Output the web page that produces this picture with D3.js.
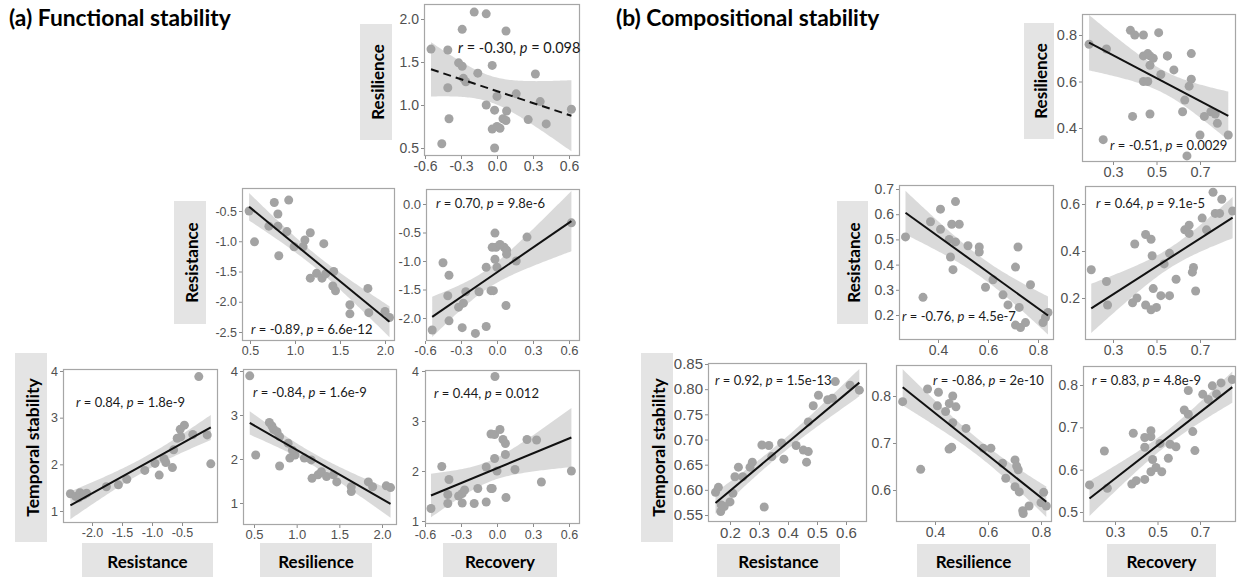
<!DOCTYPE html>
<html><head><meta charset="utf-8">
<script src="https://cdn.jsdelivr.net/npm/d3@7"></script>
<style>body{margin:0;background:#fff}svg{display:block}</style>
</head><body>
<svg id="c" width="1238" height="577"></svg>
<script>
// ---------------- DATA ----------------
// (a) Functional stability
const funcResilienceVsRecovery = [[-0.55,1.65],[-0.29,1.88],[-0.19,2.08],[-0.09,2.06],[0.075,1.86],[-0.41,1.64],[-0.32,1.49],[-0.29,1.45],[-0.28,1.31],[-0.26,1.27],[-0.16,1.37],[-0.04,1.46],[-0.41,1.20],[0.0,1.10],[0.16,1.13],[-0.09,1.00],[-0.02,0.94],[0.08,0.93],[0.05,0.84],[0.075,0.82],[-0.40,0.84],[0.26,0.83],[0.0,0.75],[0.025,0.73],[-0.04,0.72],[-0.46,0.55],[-0.02,0.50],[0.32,1.36],[0.36,1.04],[0.41,0.78],[0.62,0.95]];
const funcResistanceVsResilience = [[0.49,-0.50],[0.55,-1.01],[0.77,-0.36],[0.93,-0.32],[0.81,-0.55],[0.71,-0.75],[0.81,-0.75],[0.91,-0.84],[1.17,-0.86],[1.11,-0.98],[0.99,-1.09],[1.09,-1.09],[0.82,-1.24],[1.32,-1.04],[1.17,-1.61],[1.24,-1.53],[1.30,-1.61],[1.34,-1.54],[1.43,-1.50],[1.42,-1.74],[1.45,-1.82],[1.61,-2.05],[1.61,-2.20],[1.81,-1.78],[1.82,-2.18],[2.0,-2.16],[2.05,-2.26]];
const funcResistanceVsRecovery = [[-0.54,-2.21],[-0.45,-1.03],[-0.40,-1.25],[-0.41,-1.61],[-0.40,-2.05],[-0.32,-1.81],[-0.28,-1.74],[-0.26,-1.54],[-0.29,-2.17],[-0.18,-2.27],[-0.15,-1.54],[-0.09,-2.15],[-0.09,-1.11],[-0.05,-1.52],[-0.03,-1.52],[-0.017,-0.51],[-0.04,-0.76],[-0.008,-0.76],[-0.017,-0.97],[0.0,-1.11],[0.025,-0.71],[0.06,-0.76],[0.08,-0.81],[0.08,-0.88],[0.075,-1.78],[0.16,-1.0],[0.25,-0.58],[0.62,-0.33]];
const funcStabilityVsResistance = [[-2.36,1.37],[-2.27,1.31],[-2.20,1.39],[-2.09,1.38],[-2.22,1.28],[-2.14,1.34],[-1.76,1.52],[-1.56,1.56],[-1.42,1.68],[-1.12,1.87],[-0.95,2.02],[-0.88,1.77],[-0.80,2.12],[-0.77,2.04],[-0.66,1.93],[-0.64,2.31],[-0.58,2.56],[-0.53,2.75],[-0.46,2.84],[-0.52,2.59],[-0.22,3.88],[-0.32,2.64],[-0.08,2.63],[-0.02,2.01]];
const funcStabilityVsResilience = [[0.45,3.89],[0.52,2.09],[0.68,2.83],[0.71,2.75],[0.73,2.67],[0.77,2.62],[0.80,2.51],[0.80,1.84],[0.90,2.36],[0.92,2.02],[0.98,2.09],[0.95,2.20],[1.09,2.02],[1.17,1.98],[1.18,1.56],[1.25,1.64],[1.29,1.71],[1.35,1.60],[1.43,1.64],[1.47,1.48],[1.64,1.37],[1.64,1.26],[1.84,1.48],[1.89,1.37],[2.05,1.39],[2.10,1.35]];
const funcStabilityVsRecovery = [[-0.55,1.25],[-0.46,2.09],[-0.40,1.83],[-0.41,1.53],[-0.41,1.35],[-0.32,1.50],[-0.29,1.55],[-0.27,1.62],[-0.29,1.36],[-0.19,1.35],[-0.16,1.65],[-0.09,1.38],[-0.09,2.08],[-0.05,1.65],[-0.04,1.65],[-0.017,3.89],[-0.05,2.74],[-0.02,2.73],[0.025,2.83],[-0.02,2.25],[0.0,2.0],[0.05,2.63],[0.07,2.55],[0.07,2.33],[0.075,1.47],[0.15,2.03],[0.25,2.63],[0.33,2.62],[0.37,1.78],[0.62,2.0]];
// (b) Compositional stability
const compResilienceVsRecovery = [[0.19,0.76],[0.27,0.74],[0.255,0.35],[0.38,0.82],[0.40,0.80],[0.44,0.80],[0.44,0.71],[0.46,0.72],[0.47,0.71],[0.485,0.70],[0.47,0.67],[0.51,0.81],[0.55,0.71],[0.55,0.71],[0.52,0.63],[0.58,0.65],[0.44,0.60],[0.46,0.60],[0.39,0.45],[0.47,0.46],[0.66,0.72],[0.66,0.61],[0.65,0.58],[0.63,0.52],[0.62,0.47],[0.64,0.28],[0.70,0.37],[0.72,0.45],[0.75,0.47],[0.77,0.46],[0.78,0.42],[0.83,0.37]];
const compResistanceVsResilience = [[0.27,0.51],[0.34,0.27],[0.37,0.57],[0.41,0.62],[0.41,0.54],[0.455,0.56],[0.47,0.65],[0.485,0.56],[0.445,0.50],[0.47,0.49],[0.45,0.43],[0.46,0.38],[0.52,0.475],[0.565,0.47],[0.565,0.45],[0.59,0.31],[0.62,0.34],[0.66,0.28],[0.68,0.24],[0.72,0.47],[0.71,0.39],[0.725,0.23],[0.71,0.16],[0.73,0.15],[0.75,0.17],[0.77,0.32],[0.84,0.21],[0.83,0.19],[0.82,0.17]];
const compResistanceVsRecovery = [[0.20,0.32],[0.27,0.27],[0.275,0.17],[0.40,0.43],[0.39,0.18],[0.41,0.20],[0.45,0.47],[0.475,0.45],[0.48,0.38],[0.45,0.17],[0.485,0.24],[0.475,0.15],[0.50,0.16],[0.52,0.21],[0.56,0.21],[0.56,0.39],[0.535,0.345],[0.59,0.28],[0.63,0.49],[0.65,0.51],[0.65,0.475],[0.67,0.33],[0.665,0.31],[0.68,0.23],[0.71,0.54],[0.73,0.49],[0.76,0.65],[0.77,0.56],[0.79,0.56],[0.80,0.62],[0.85,0.57]];
const compStabilityVsResistance = [[0.15,0.595],[0.16,0.605],[0.168,0.557],[0.17,0.57],[0.18,0.567],[0.20,0.576],[0.21,0.593],[0.217,0.626],[0.229,0.645],[0.244,0.626],[0.269,0.645],[0.277,0.655],[0.31,0.689],[0.318,0.566],[0.334,0.688],[0.344,0.666],[0.378,0.693],[0.386,0.661],[0.428,0.688],[0.453,0.679],[0.47,0.676],[0.464,0.655],[0.487,0.767],[0.47,0.735],[0.505,0.788],[0.537,0.779],[0.553,0.782],[0.563,0.815],[0.614,0.808],[0.646,0.798]];
const compStabilityVsResilience = [[0.278,0.788],[0.346,0.644],[0.372,0.815],[0.413,0.808],[0.409,0.779],[0.44,0.767],[0.454,0.784],[0.467,0.80],[0.479,0.777],[0.467,0.743],[0.453,0.687],[0.463,0.691],[0.517,0.731],[0.582,0.689],[0.611,0.689],[0.655,0.657],[0.667,0.625],[0.702,0.664],[0.708,0.651],[0.714,0.643],[0.702,0.607],[0.718,0.596],[0.731,0.556],[0.755,0.566],[0.733,0.55],[0.81,0.595],[0.80,0.573],[0.82,0.566]];
const compStabilityVsRecovery = [[0.18,0.564],[0.25,0.644],[0.264,0.556],[0.379,0.566],[0.40,0.574],[0.386,0.686],[0.44,0.577],[0.44,0.653],[0.44,0.676],[0.469,0.678],[0.469,0.692],[0.477,0.624],[0.469,0.595],[0.493,0.605],[0.52,0.595],[0.512,0.662],[0.551,0.627],[0.559,0.66],[0.587,0.654],[0.645,0.787],[0.626,0.741],[0.645,0.731],[0.666,0.69],[0.676,0.645],[0.713,0.778],[0.739,0.766],[0.758,0.798],[0.778,0.779],[0.799,0.805],[0.852,0.813]];

// Fitted regression lines: [[x start, y start], [x end, y end]]
const fitLines = [
  [[-0.55,1.415],[0.62,0.875]],
  [[0.49,-0.43],[2.05,-2.33]],
  [[-0.54,-1.98],[0.62,-0.30]],
  [[-2.36,1.12],[-0.02,2.79]],
  [[0.45,2.82],[2.10,0.98]],
  [[-0.55,1.51],[0.62,2.67]],
  [[0.19,0.767],[0.83,0.452]],
  [[0.27,0.606],[0.84,0.198]],
  [[0.20,0.156],[0.85,0.542]],
  [[0.15,0.574],[0.646,0.813]],
  [[0.278,0.8185],[0.82,0.575]],
  [[0.18,0.532],[0.852,0.795]]
];

// Tick values
const ticksRecoveryA = [-0.6,-0.3,0.0,0.3,0.6];
const ticksResilienceA = [0.5,1.0,1.5,2.0];
const ticksResistanceA2 = [-2.5,-2.0,-1.5,-1.0,-0.5];
const ticksResistanceA3 = [-2.0,-1.5,-1.0,-0.5,0.0];
const ticksResistanceA4 = [-2.0,-1.5,-1.0,-0.5];
const ticksStabilityA = [1,2,3,4];
const ticksRecoveryB = [0.3,0.5,0.7];
const ticksResilienceB1 = [0.4,0.6,0.8];
const ticksResilienceB = [0.4,0.6,0.8];
const ticksResistanceB2 = [0.2,0.3,0.4,0.5,0.6,0.7];
const ticksResistanceB3 = [0.2,0.4,0.6];
const ticksResistanceB4 = [0.2,0.3,0.4,0.5,0.6];
const ticksStabilityB4 = [0.55,0.60,0.65,0.70,0.75,0.80,0.85];
const ticksStabilityB5 = [0.6,0.7,0.8];
const ticksStabilityB6 = [0.5,0.6,0.7,0.8];

// Correlation labels
const corrR = ["-0.30","-0.89","0.70","0.84","-0.84","0.44","-0.51","-0.76","0.64","0.92","-0.86","0.83"];
const corrP = ["0.098","6.6e-12","9.8e-6","1.8e-9","1.6e-9","0.012","0.0029","4.5e-7","9.1e-5","1.5e-13","2e-10","4.8e-9"];

// ---------------- LAYOUT ----------------
const loc = d3.formatLocale({decimal:".",thousands:",",grouping:[3],currency:["",""],minus:"-"});
const f1 = loc.format(".1f"), f0 = loc.format("d"), f2 = loc.format(".2f");

const panels = [
 {data:funcResilienceVsRecovery, box:[424,4,580,156], xd:[-0.6,0.6], xr:[425,569], yd:[0.5,2.0], yr:[148,19], xt:ticksRecoveryA, yt:ticksResilienceA, fx:f1, fy:f1, fs:14, dash:true, ann:[458,53,14.5]},
 {data:funcResistanceVsResilience, box:[242,188,395,341], xd:[0.5,2.0], xr:[250,385], yd:[-2.5,-0.5], yr:[332,211], xt:ticksResilienceA, yt:ticksResistanceA2, fx:f1, fy:f1, fs:12.5, ann:[251,334,13]},
 {data:funcResistanceVsRecovery, box:[426,189,580,341], xd:[-0.6,0.6], xr:[425,569], yd:[-2.0,0.0], yr:[318,204], xt:ticksRecoveryA, yt:ticksResistanceA3, fx:f1, fy:f1, fs:13, ann:[436,208,13]},
 {data:funcStabilityVsResistance, box:[63,369,218,523], xd:[-2.0,-0.5], xr:[92,182], yd:[1,4], yr:[511,371], xt:ticksResistanceA4, yt:ticksStabilityA, fx:f1, fy:f0, fs:12.5, ann:[76,407,13]},
 {data:funcStabilityVsResilience, box:[243,369,397,525], xd:[0.5,2.0], xr:[254,382], yd:[1,4], yr:[503,371], xt:ticksResilienceA, yt:ticksStabilityA, fx:f1, fy:f0, fs:13, ann:[253,397,13]},
 {data:funcStabilityVsRecovery, box:[425,370,580,524], xd:[-0.6,0.6], xr:[425,569], yd:[1,4], yr:[521,371], xt:ticksRecoveryA, yt:ticksStabilityA, fx:f1, fy:f0, fs:12.5, ypad:3, xpad:3, ann:[434,398,13]},
 {data:compResilienceVsRecovery, box:[1082,14,1236,162], xd:[0.3,0.7], xr:[1113,1200], yd:[0.4,0.8], yr:[128,35], xt:ticksRecoveryB, yt:ticksResilienceB1, fx:f1, fy:f1, fs:14.5, ann:[1110,150,13]},
 {data:compResistanceVsResilience, box:[899,185,1054,340], xd:[0.4,0.8], xr:[938,1038], yd:[0.2,0.7], yr:[315,189], xt:ticksResilienceB, yt:ticksResistanceB2, fx:f1, fy:f1, fs:14, ann:[902,321,13]},
 {data:compResistanceVsRecovery, box:[1085,186,1236,340], xd:[0.3,0.7], xr:[1113,1200], yd:[0.2,0.6], yr:[298,204], xt:ticksRecoveryB, yt:ticksResistanceB3, fx:f1, fy:f1, fs:14, ann:[1096,208,13]},
 {data:compStabilityVsResistance, box:[708,363,867,522], xd:[0.2,0.6], xr:[730,846], yd:[0.55,0.85], yr:[515,364], xt:ticksResistanceB4, yt:ticksStabilityB4, fx:f1, fy:f2, fs:15, ann:[715,385,13]},
 {data:compStabilityVsResilience, box:[896,365,1052,522], xd:[0.4,0.8], xr:[935,1041], yd:[0.6,0.8], yr:[490,396], xt:ticksResilienceB, yt:ticksStabilityB5, fx:f1, fy:f1, fs:14, ann:[933,385,13]},
 {data:compStabilityVsRecovery, box:[1083,366,1236,522], xd:[0.3,0.7], xr:[1115,1200], yd:[0.5,0.8], yr:[512,385], xt:ticksRecoveryB, yt:ticksStabilityB6, fx:f1, fy:f1, fs:14, ann:[1092,385,13]}
];

const labels = [
 {t:"Resilience", x:360, y:24, w:32, h:116, rot:true},
 {t:"Resistance", x:174, y:201, w:32, h:123, rot:true},
 {t:"Temporal stability", x:15, y:353, w:32, h:189, rot:true},
 {t:"Resistance", x:82, y:543, w:131, h:34},
 {t:"Resilience", x:260, y:543, w:112, h:34},
 {t:"Recovery", x:443, y:543, w:114, h:34},
 {t:"Resilience", x:1024, y:23, w:30, h:116, rot:true},
 {t:"Resistance", x:837, y:201, w:31, h:123, rot:true},
 {t:"Temporal stability", x:641, y:353, w:32, h:189, rot:true},
 {t:"Resistance", x:717, y:544, w:123, h:33},
 {t:"Resilience", x:917, y:544, w:113, h:33},
 {t:"Recovery", x:1107, y:544, w:109, h:33}
];

const titles = [{t:"(a) Functional stability", x:9, y:26},{t:"(b) Compositional stability", x:616, y:26}];

// ---------------- DRAW ----------------
const svg = d3.select("#c");
const T = 2.04;

panels.forEach((p,i)=>{
  const g = svg.append("g");
  const x = d3.scaleLinear().domain(p.xd).range(p.xr);
  const y = d3.scaleLinear().domain(p.yd).range(p.yr);
  const [bx0,by0,bx1,by1] = p.box;
  g.append("clipPath").attr("id","cl"+i).append("rect").attr("x",bx0).attr("y",by0).attr("width",bx1-bx0).attr("height",by1-by0);
  const inner = g.append("g").attr("clip-path",`url(#cl${i})`);
  // fitted line (read) and its confidence band from the spread of the points
  const [[lx0,ly0],[lx1,ly1]] = fitLines[i];
  const b = (ly1-ly0)/(lx1-lx0), a = ly0 - b*lx0;
  const n = p.data.length, mx = d3.mean(p.data,d=>d[0]);
  const sxx = d3.sum(p.data,d=>(d[0]-mx)**2);
  const s = Math.sqrt(d3.sum(p.data,d=>(d[1]-a-b*d[0])**2)/(n-2));
  const xs = d3.range(0,81).map(k=>lx0+(lx1-lx0)*k/80);
  const band = xs.map(v=>{const yh=a+b*v; const se=s*Math.sqrt(1/n+(v-mx)**2/sxx); return [v,yh-T*se,yh+T*se];});
  inner.append("path").attr("d",d3.area().x(d=>x(d[0])).y0(d=>y(d[1])).y1(d=>y(d[2]))(band)).attr("fill","#d4d4d4").attr("opacity",0.85);
  inner.selectAll("circle").data(p.data).join("circle").attr("cx",d=>x(d[0])).attr("cy",d=>y(d[1])).attr("r",4.5).attr("fill","#a3a3a3");
  inner.append("line").attr("x1",x(lx0)).attr("y1",y(ly0)).attr("x2",x(lx1)).attr("y2",y(ly1))
    .attr("stroke","#111").attr("stroke-width",2).attr("stroke-dasharray",p.dash?"8,5":null);
  g.append("rect").attr("x",bx0+0.5).attr("y",by0+0.5).attr("width",bx1-bx0-1).attr("height",by1-by0-1).attr("fill","none").attr("stroke","#a6a6a6").attr("stroke-width",1.2);
  const ax = g.append("g").attr("transform",`translate(0,${by1})`).call(d3.axisBottom(x).tickValues(p.xt).tickFormat(p.fx).tickSize(3).tickPadding(p.xpad||2));
  const ay = g.append("g").attr("transform",`translate(${bx0},0)`).call(d3.axisLeft(y).tickValues(p.yt).tickFormat(p.fy).tickSize(3).tickPadding(p.ypad||2));
  [ax,ay].forEach(a=>{
    a.select(".domain").remove();
    a.selectAll("line").attr("stroke","#8c8c8c");
    a.selectAll("text").attr("fill","#505050").style("font-family","'Liberation Sans',Arial,sans-serif").style("font-size",p.fs+"px");
  });
  const t = g.append("text").attr("x",p.ann[0]).attr("y",p.ann[1]).style("font-family","Lato,sans-serif").style("font-size",p.ann[2]+"px").attr("fill","#1a1a1a");
  t.append("tspan").style("font-style","italic").text("r");
  t.append("tspan").text(` = ${corrR[i]}, `);
  t.append("tspan").style("font-style","italic").text("p");
  t.append("tspan").text(` = ${corrP[i]}`);
});

labels.forEach(l=>{
  svg.append("rect").attr("x",l.x).attr("y",l.y).attr("width",l.w).attr("height",l.h).attr("fill","#e4e4e4");
  const cx=l.x+l.w/2, cy=l.y+l.h/2;
  svg.append("text").attr("transform",l.rot?`translate(${cx+1},${cy}) rotate(-90)`:`translate(${cx},${cy+1})`)
    .attr("text-anchor","middle").attr("dominant-baseline","central")
    .style("font-family","Lato,sans-serif").style("font-weight","bold").style("font-size",(l.t.length>12?"17.5px":"17px")).attr("fill","#000").text(l.t);
});
titles.forEach(t=>{
  svg.append("text").attr("x",t.x).attr("y",t.y).style("font-family","Lato,sans-serif").style("font-weight","bold").style("font-size","22.8px").attr("fill","#000").text(t.t);
});
</script>
</body></html>
